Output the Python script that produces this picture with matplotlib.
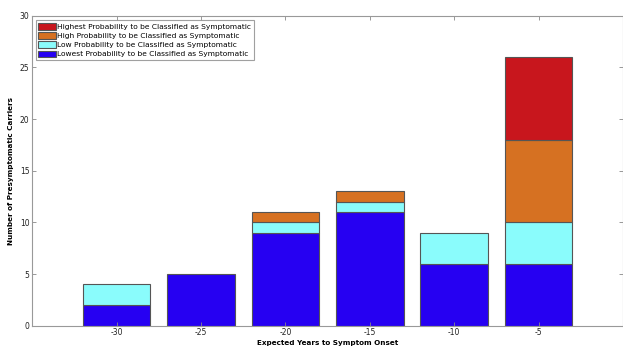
import matplotlib
matplotlib.use("Agg")
import matplotlib.pyplot as plt
import numpy as np

years = [-30, -25, -20, -15, -10, -5]
lowest = [2, 5, 9, 11, 6, 6]
low = [2, 0, 1, 1, 3, 4]
high = [0, 0, 1, 1, 0, 8]
highest = [0, 0, 0, 0, 0, 8]
labels = ["Lowest Probability to be Classified as Symptomatic",
          "Low Probability to be Classified as Symptomatic",
          "High Probability to be Classified as Symptomatic",
          "Highest Probability to be Classified as Symptomatic"]
colors = ["#2600F2", "#8AFCFC", "#D67122", "#C8161D"]

plt.rcParams['font.family'] = ['DejaVu Sans']
plt.rcParams['axes.unicode_minus'] = False
fig = plt.figure(figsize=(6.23, 3.46), dpi=100)
ax = fig.add_axes([0.0518, 0.0587, 0.9482, 0.8959])

series = [lowest, low, high, highest]
bottom = np.zeros(len(years))
handles = []
for vals, c, lab in zip(series, colors, labels):
    v = np.array(vals, dtype=float)
    mask = v > 0
    b = ax.bar(np.array(years)[mask], v[mask], width=4, bottom=bottom[mask],
               color=c, edgecolor="#555555", linewidth=0.8, label=lab)
    handles.append(b)
    bottom += v

ax.set_xlim(-35, 0)
ax.set_ylim(0, 30)
ax.set_xticks(years)
ax.set_yticks([0, 5, 10, 15, 20, 25, 30])
ax.tick_params(direction="in", length=3, width=0.6, labelsize=5.5, colors="#888888",
               labelcolor="#222222", top=True, right=True, pad=2)
for s in ax.spines.values():
    s.set_color("#999999")
    s.set_linewidth(0.8)

ax.set_xlabel("Expected Years to Symptom Onset", fontsize=5.2, fontweight="bold", labelpad=1.5)
ax.set_ylabel("Number of Presymptomatic Carriers", fontsize=5.2, fontweight="bold", labelpad=4)

leg = ax.legend(handles[::-1], labels[::-1], loc="upper left", bbox_to_anchor=(0.006, 0.985),
                fontsize=5.4, frameon=True, fancybox=False, handlelength=2.3, handleheight=1.0,
                borderpad=0.35, labelspacing=0.3, handletextpad=0.2, borderaxespad=0)
leg.get_frame().set_edgecolor("#888888")
leg.get_frame().set_linewidth(0.8)

fig.savefig("out.png", dpi=100)
